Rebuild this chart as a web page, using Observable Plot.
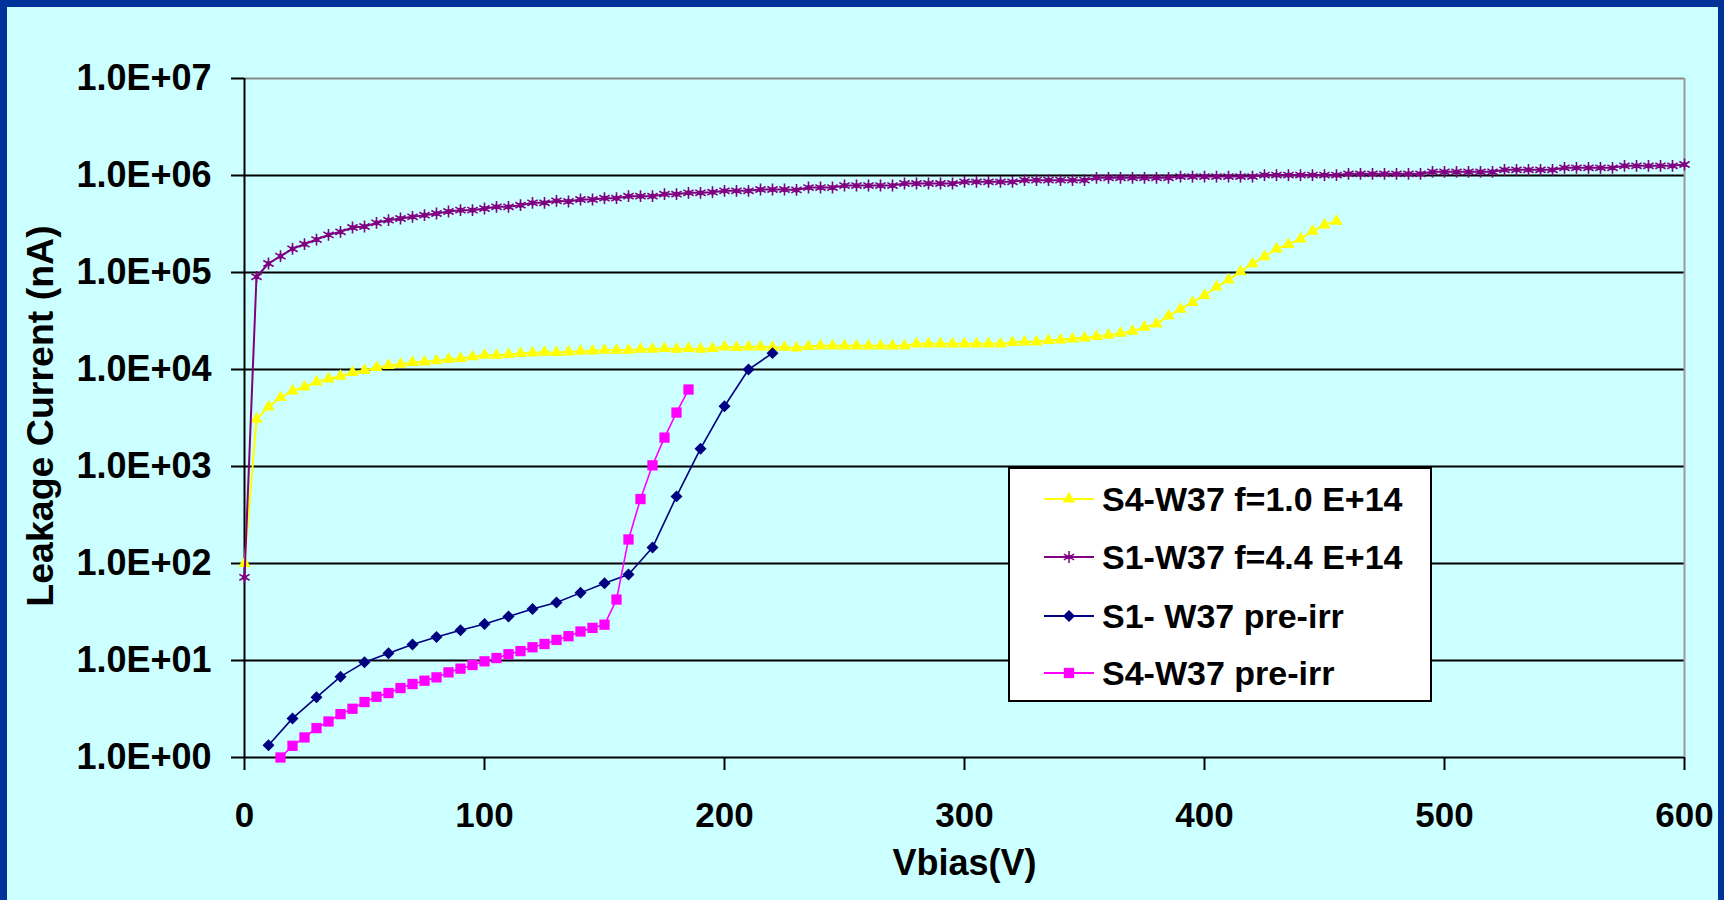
<!DOCTYPE html>
<html>
<head>
<meta charset="utf-8">
<script src="https://cdn.jsdelivr.net/npm/d3@7"></script>
<script src="https://cdn.jsdelivr.net/npm/@observablehq/plot@0.6"></script>
<style>
  html, body { margin: 0; padding: 0; width: 1724px; height: 900px; overflow: hidden; background: #003399; }
  #panel { position: absolute; left: 7px; top: 7px; width: 1711px; height: 893px; background: #CCFFFF; }
  #chart { position: absolute; left: 0; top: 0; }
  #legend { position: absolute; left: 1008px; top: 467px; width: 420px; height: 231px; background: #FFFFFF; border: 2px solid #000; font-family: "Liberation Sans", Arial, sans-serif; font-weight: bold; font-size: 34px; color: #000; }
  .row { position: absolute; left: 0; height: 40px; display: flex; align-items: center; }
  .row svg { margin-left: 34px; margin-right: 8px; }
</style>
</head>
<body>
<div id="panel"></div>
<div id="chart"></div>
<div id="legend"></div>
<script>
// ---------- Data ----------
const seriesNames = ["S4-W37 f=1.0 E+14", "S1-W37 f=4.4 E+14", "S1- W37 pre-irr", "S4-W37 pre-irr"];

// S4-W37 f=1.0 E+14 (yellow triangles)
const yellowV = [0,5,10,15,20,25,30,35,40,45,50,55,60,65,70,75,80,85,90,95,
  100,105,110,115,120,125,130,135,140,145,150,155,160,165,170,175,180,185,190,195,
  200,205,210,215,220,225,230,235,240,245,250,255,260,265,270,275,280,285,290,295,
  300,305,310,315,320,325,330,335,340,345,350,355,360,365,370,375,380,385,390,395,
  400,405,410,415,420,425,430,435,440,445,450,455];
const yellowI = [100,3070,4120,5140,6030,6620,7460,8010,8540,9310,9770,10490,11000,11350,11800,12000,12300,12790,13000,13520,
  14060,14060,14290,14630,14860,15100,15000,15200,15460,15500,15850,15850,15850,16220,16220,16480,16220,16480,16220,16480,
  17140,16900,17140,17140,17000,17000,16700,17260,17540,17540,17540,17540,17540,17540,17540,17540,18400,18400,18400,18400,
  18400,18400,18400,18400,18970,19270,19270,19900,20230,20700,21200,21880,22600,23700,24850,27300,29560,35700,41870,49080,
  58000,71000,84000,102000,123000,146000,175000,195000,222000,267000,310000,338000];

// S1-W37 f=4.4 E+14 (purple stars)
const purpleV = [0,5,10,15,20,25,30,35,40,45,50,55,60,65,70,75,80,85,90,95,
  100,105,110,115,120,125,130,135,140,145,150,155,160,165,170,175,180,185,190,195,
  200,205,210,215,220,225,230,235,240,245,250,255,260,265,270,275,280,285,290,295,
  300,305,310,315,320,325,330,335,340,345,350,355,360,365,370,375,380,385,390,395,
  400,405,410,415,420,425,430,435,440,445,450,455,460,465,470,475,480,485,490,495,
  500,505,510,515,520,525,530,535,540,545,550,555,560,565,570,575,580,585,590,595,600];
const purpleI = [72,90300,123800,147300,175400,195900,218600,244300,262500,291100,298000,325000,346500,360500,375000,390000,405600,425500,439400,439400,
  457000,475400,475400,494300,522400,522400,548000,540000,566000,566000,584000,584000,612000,612000,612000,642000,642000,662700,662700,673000,
  695000,695000,695000,717500,717500,717500,710000,751600,751600,751600,788000,788000,788000,788000,788000,827300,827300,827300,827300,827300,
  860000,860000,860000,860000,860000,895800,895800,895800,895800,895800,895800,946000,946000,946000,946000,946000,946000,946000,975000,975000,
  975000,975000,975000,975000,975000,1010000,1010000,1010000,1010000,1010000,1010000,1010000,1040000,1040000,1040000,1040000,1040000,1040000,1040000,1091000,
  1091000,1091000,1091000,1091000,1091000,1144000,1144000,1144000,1144000,1144000,1199000,1199000,1199000,1199000,1199000,1258000,1258000,1258000,1258000,1258000,1298000];

// S1- W37 pre-irr (navy diamonds)
const navyV = [10,20,30,40,50,60,70,80,90,100,110,120,130,140,150,160,170,180,190,200,210,220];
const navyI = [1.34,2.53,4.17,6.81,9.57,11.9,14.6,17.5,20.5,23.8,28.4,34.0,39.6,49.8,62.7,77,146,492,1528,4180,10000,14750];

// S4-W37 pre-irr (magenta squares)
const magentaV = [15,20,25,30,35,40,45,50,55,60,65,70,75,80,85,90,95,100,105,110,115,120,125,130,135,140,145,150,155,160,165,170,175,180,185];
const magentaI = [1.0,1.32,1.61,2.01,2.35,2.80,3.18,3.73,4.23,4.62,5.20,5.72,6.19,6.70,7.55,8.24,8.99,9.80,10.6,11.6,12.5,13.7,14.8,16.3,17.8,19.9,21.7,23.4,42.5,177,462,1028,1986,3597,6216];

const xTicks = [0, 100, 200, 300, 400, 500, 600];
const yTicks = [1, 10, 100, 1000, 10000, 100000, 1000000, 10000000];
const yTickLabels = ["1.0E+00","1.0E+01","1.0E+02","1.0E+03","1.0E+04","1.0E+05","1.0E+06","1.0E+07"];
const xTitle = "Vbias(V)";
const yTitle = "Leakage Current (nA)";

// ---------- Build ----------
const toRows = (V, I) => V.map((v, k) => ({v, i: I[k]}));
const yellow = toRows(yellowV, yellowI);
const purple = toRows(purpleV, purpleI);
const navy = toRows(navyV, navyI);
const magenta = toRows(magentaV, magentaI);

const C = {yellow: "#FFFF00", purple: "#800080", navy: "#000080", magenta: "#FF00FF"};

const chart = Plot.plot({
  width: 1724,
  height: 900,
  marginLeft: 244,
  marginRight: 40,
  marginTop: 78,
  marginBottom: 143,
  style: {background: "transparent", fontFamily: "'Liberation Sans', Arial, sans-serif", fontWeight: "bold", color: "#000", overflow: "visible"},
  x: {domain: [0, 600]},
  y: {type: "log", domain: [1, 1e7]},
  marks: [
    Plot.ruleY(yTicks.slice(0, 7), {stroke: "#000", strokeWidth: 2}),
    Plot.ruleY([1e7], {stroke: "#8a8a8a", strokeWidth: 2}),
    Plot.ruleX([600], {stroke: "#9a9a9a", strokeWidth: 2}),
    Plot.ruleX([0], {stroke: "#000", strokeWidth: 2}),
    Plot.axisY(yTicks, {tickSize: 13, tickPadding: 20, fontSize: 36, strokeWidth: 2,
      tickFormat: d => yTickLabels[yTicks.indexOf(d)], label: null}),
    Plot.axisX(xTicks, {tickSize: 13, tickPadding: 32, fontSize: 35, strokeWidth: 2, label: null}),
    Plot.text([yTitle], {text: d => d, frameAnchor: "left", textAnchor: "middle", dx: -204, dy: -2, rotate: -90, fontSize: 37.5, fontWeight: "bold", fill: "#000"}),
    Plot.text([xTitle], {text: d => d, frameAnchor: "bottom", textAnchor: "middle", dy: 117, fontSize: 36, fontWeight: "bold", fill: "#000"}),
    // yellow
    Plot.line(yellow, {x: "v", y: "i", stroke: C.yellow, strokeWidth: 2}),
    Plot.dot(yellow, {x: "v", y: "i", symbol: "triangle", fill: C.yellow, r: 4.6}),
    // purple
    Plot.line(purple, {x: "v", y: "i", stroke: C.purple, strokeWidth: 2}),
    Plot.dot(purple, {x: "v", y: "i", symbol: "asterisk", stroke: C.purple, strokeWidth: 1.6, r: 5.6}),
    Plot.dot(purple, {x: "v", y: "i", symbol: "circle", fill: C.purple, r: 2.6}),
    // navy
    Plot.line(navy, {x: "v", y: "i", stroke: C.navy, strokeWidth: 1.6}),
    Plot.dot(navy, {x: "v", y: "i", symbol: "diamond2", fill: C.navy, stroke: "none", r: 5.4}),
    // magenta
    Plot.line(magenta, {x: "v", y: "i", stroke: C.magenta, strokeWidth: 1.6}),
    Plot.dot(magenta, {x: "v", y: "i", symbol: "square", fill: C.magenta, stroke: "none", r: 5.8})
  ]
});
document.getElementById("chart").appendChild(chart);

// ---------- Legend ----------
const legendItems = [
  {name: seriesNames[0], color: C.yellow, sym: d3.symbolTriangle, r: 4.6, fill: true},
  {name: seriesNames[1], color: C.purple, sym: d3.symbolAsterisk, r: 5.6, fill: false},
  {name: seriesNames[2], color: C.navy, sym: d3.symbolDiamond2, r: 5.4, fill: true},
  {name: seriesNames[3], color: C.magenta, sym: d3.symbolSquare, r: 5.8, fill: true}
];
const rowCenters = [30, 88, 147, 204];
const legend = document.getElementById("legend");
legendItems.forEach((it, k) => {
  const row = document.createElement("div");
  row.className = "row";
  row.style.top = (rowCenters[k] - 20) + "px";
  const ns = "http://www.w3.org/2000/svg";
  const svg = document.createElementNS(ns, "svg");
  svg.setAttribute("width", 50); svg.setAttribute("height", 20);
  const line = document.createElementNS(ns, "line");
  line.setAttribute("x1", 0); line.setAttribute("x2", 50); line.setAttribute("y1", 10); line.setAttribute("y2", 10);
  line.setAttribute("stroke", it.color); line.setAttribute("stroke-width", 2);
  svg.appendChild(line);
  const p = document.createElementNS(ns, "path");
  p.setAttribute("d", d3.symbol(it.sym, Math.PI * it.r * it.r)());
  p.setAttribute("transform", "translate(25,10)");
  if (it.fill) { p.setAttribute("fill", it.color); }
  else { p.setAttribute("fill", "none"); p.setAttribute("stroke", it.color); p.setAttribute("stroke-width", 1.5); }
  svg.appendChild(p);
  if (!it.fill) {
    const c = document.createElementNS(ns, "circle");
    c.setAttribute("cx", 25); c.setAttribute("cy", 10); c.setAttribute("r", 2.2); c.setAttribute("fill", it.color);
    svg.appendChild(c);
  }
  row.appendChild(svg);
  const t = document.createElement("span");
  t.textContent = it.name;
  row.appendChild(t);
  legend.appendChild(row);
});
</script>
</body>
</html>
